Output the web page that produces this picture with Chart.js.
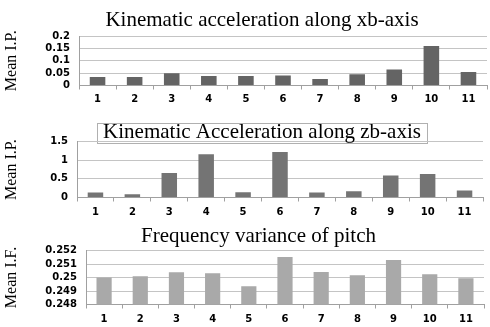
<!DOCTYPE html>
<html>
<head>
<meta charset="utf-8">
<script src="https://cdn.jsdelivr.net/npm/chart.js@4"></script>
<style>
	body { margin: 0; background: #fff; overflow: hidden; width: 490px; height: 327px; position: relative; }
	canvas { position: absolute; left: 0; }
</style>
</head>
<body>
<canvas id="chartXb" width="524" height="108" style="top:0px"></canvas>
<canvas id="chartZb" width="524" height="112" style="top:108px"></canvas>
<canvas id="chartPitch" width="517" height="107" style="top:220px"></canvas>
<script>
const categories = ["1", "2", "3", "4", "5", "6", "7", "8", "9", "10", "11"];

const xbValues = [0.034, 0.034, 0.049, 0.038, 0.038, 0.04, 0.026, 0.045, 0.065, 0.16, 0.055];
const zbValues = [0.135, 0.09, 0.66, 1.16, 0.14, 1.22, 0.135, 0.17, 0.59, 0.63, 0.19];
const pitchValues = [0.25, 0.2501, 0.25039, 0.25032, 0.24936, 0.25152, 0.2504, 0.25017, 0.2513, 0.25025, 0.24995];

const xbTicks = ["0", "0.05", "0.1", "0.15", "0.2"];
const zbTicks = ["0", "0.5", "1", "1.5"];
const pitchTicks = ["0.248", "0.249", "0.25", "0.251", "0.252"];

const TITLE_SIZE = 21;

// white box with a grey frame behind the title (middle chart only)
const titleBox = {
	id: "titleBox",
	beforeDraw(chart) {
		const t = chart.titleBlock;
		if (!t) return;
		const ctx = chart.ctx;
		ctx.save();
		ctx.font = TITLE_SIZE + "px 'Liberation Serif'";
		const w = ctx.measureText(chart.options.plugins.title.text).width;
		const cx = (t.left + t.right) / 2;
		const cy = t.top + t.options.padding.top + TITLE_SIZE * 0.6;
		ctx.fillStyle = "#fff";
		ctx.strokeStyle = "#b0b0b0";
		ctx.lineWidth = 1;
		ctx.fillRect(cx - w / 2 - 6, cy - 10, w + 12, 20);
		ctx.strokeRect(Math.round(cx - w / 2 - 6) + 0.5, Math.round(cy - 10) + 0.5, Math.round(w + 12), 20);
		ctx.restore();
	},
};

function makeChart(id, opts) {
	const ctx = document.getElementById(id).getContext("2d");
	const tickValues = opts.ticks.map((t) => parseFloat(t));

	return new Chart(ctx, {
		type: "bar",
		data: {
			labels: categories,
			datasets: [
				{
					data: opts.values,
					backgroundColor: opts.color,
					borderWidth: 0,
					categoryPercentage: 1,
					barPercentage: 0.42,
				},
			],
		},
		plugins: opts.boxed ? [titleBox] : [],
		options: {
			responsive: false,
			animation: false,
			layout: { padding: 0 },
			plugins: {
				legend: { display: false },
				tooltip: { enabled: false },
				title: {
					display: true,
					text: opts.title,
					color: "#000",
					font: { family: "'Liberation Serif'", size: TITLE_SIZE, weight: "normal", lineHeight: 1.2 },
					padding: { top: opts.titleTop, bottom: opts.titleBottom },
				},
			},
			scales: {
				x: {
					afterFit: (scale) => { scale.height = opts.xHeight; },
					grid: {
						offset: true,
						drawOnChartArea: false,
						drawTicks: true,
						tickLength: 4,
						color: "#a0a0a0",
					},
					border: { color: "#a0a0a0" },
					ticks: {
						color: "#000",
						padding: opts.xPad,
						maxRotation: 0,
						autoSkip: false,
						font: { family: "'DejaVu Sans'", size: 10, weight: "bold" },
					},
				},
				y: {
					min: tickValues[0],
					max: tickValues[tickValues.length - 1],
					afterFit: (scale) => { scale.width = opts.yWidth; },
					afterBuildTicks: (scale) => {
						scale.ticks = tickValues.map((v) => ({ value: v }));
					},
					grid: { color: "#c4c4c4", drawTicks: false },
					border: { color: "#a0a0a0" },
					ticks: {
						color: "#000",
						padding: 9,
						autoSkip: false,
						font: { family: "'DejaVu Sans'", size: 10, weight: "bold" },
						callback: (v, i) => opts.ticks[i],
					},
					title: {
						display: true,
						text: opts.yTitle,
						color: "#000",
						padding: { top: 2, bottom: 0 },
						font: { family: "'Liberation Serif'", size: 16, weight: "normal" },
					},
				},
				// empty right-hand axis, only reserves space so the title centres like the original
				spacer: {
					position: "right",
					display: true,
					afterFit: (scale) => { scale.width = opts.padRight; },
					grid: { display: false },
					border: { display: false },
					ticks: { display: false },
				},
			},
		},
	});
}

makeChart("chartXb", {
	title: "Kinematic acceleration along xb-axis",
	yTitle: "Mean I.P.",
	values: xbValues,
	ticks: xbTicks,
	color: "#646464",
	titleTop: 8,
	titleBottom: 2.8,
	xHeight: 22.5,
	xPad: 4,
	yWidth: 79,
	padRight: 37,
});

makeChart("chartZb", {
	title: "Kinematic Acceleration along zb-axis",
	yTitle: "Mean I.P.",
	values: zbValues,
	ticks: zbTicks,
	color: "#747474",
	titleTop: 12,
	titleBottom: -3.5,
	xHeight: 22.5,
	xPad: 5,
	yWidth: 77,
	padRight: 41,
	boxed: true,
});

makeChart("chartPitch", {
	title: "Frequency variance of pitch",
	yTitle: "Mean I.F.",
	values: pitchValues,
	ticks: pitchTicks,
	color: "#a9a9a9",
	titleTop: 4,
	titleBottom: 1.3,
	xHeight: 22.5,
	xPad: 5,
	yWidth: 86,
	padRight: 33,
});
</script>
</body>
</html>
